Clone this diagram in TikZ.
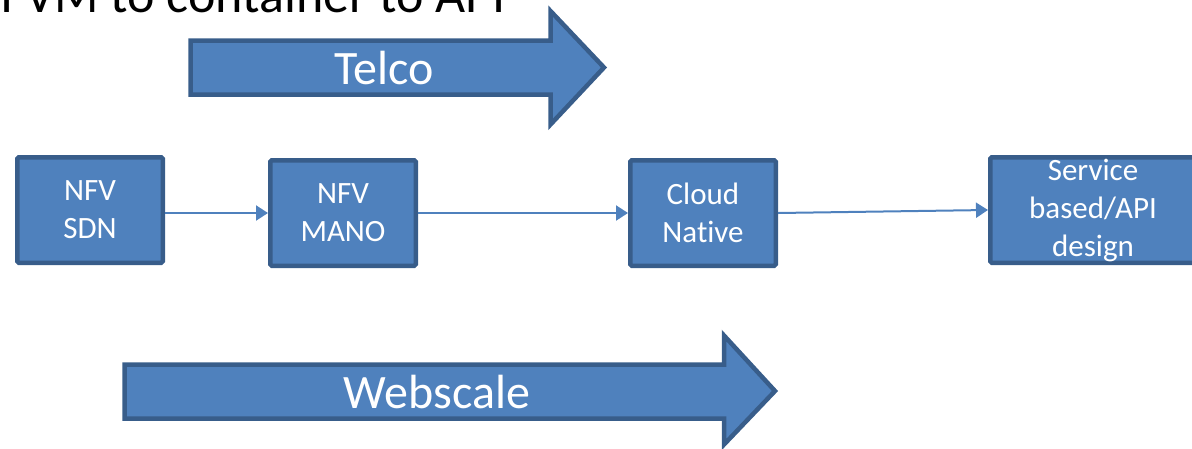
\documentclass[tikz,border=0pt]{standalone}
\usepackage{fontspec}
\setmainfont{Carlito}[Ligatures=NoCommon]
\usetikzlibrary{arrows.meta}
\definecolor{fillblue}{HTML}{4F81BD}
\definecolor{edgeblue}{HTML}{385D8A}
\tikzset{
  box/.style={draw=edgeblue, fill=fillblue, line width=4.5pt, rounded corners=1.5pt,
    text=white, align=center, font=\fontsize{31}{38}\selectfont, inner sep=0pt},
  bigarrow/.style={draw=edgeblue, fill=fillblue, line width=4.5pt, line join=miter},
  arrowlabel/.style={text=white, font=\fontsize{48}{58}\selectfont, inner sep=0pt},
  link/.style={draw=fillblue, line width=2pt, -{Triangle[length=12pt,width=15pt]}},
}
\begin{document}
\begin{tikzpicture}[x=1pt,y=-1pt]
\useasboundingbox (0,0) rectangle (1192,448);
\clip (0,0) rectangle (1192,448);
% clipped title
\node[anchor=base west, inner sep=0pt, font=\fontsize{52}{62}\selectfont] (title) at (0,12) {I VM to container to API};
% Telco block arrow
\draw[bigarrow] (190.5,40.5) -- (550.5,40.5) -- (550.5,11) -- (604,67.5) -- (550.5,124.5) -- (550.5,94.5) -- (190.5,94.5) -- cycle;
\node[arrowlabel] (telco) at (384,68) {Telco};
% Webscale block arrow
\draw[bigarrow] (124.5,364.5) -- (724,364.5) -- (724,335.5) -- (775,391) -- (724,444.5) -- (724,418.5) -- (124.5,418.5) -- cycle;
\node[arrowlabel] (webscale) at (437,392) {Webscale};
% boxes
\node[box, minimum width=145.5pt, minimum height=105.5pt] (sdn) at (90,210) {NFV\\SDN};
\node[box, minimum width=145.5pt, minimum height=105.5pt] (mano) at (343,213) {NFV\\MANO};
\node[box, minimum width=145.5pt, minimum height=105.5pt] (cloud) at (703,213) {Cloud\\Native};
\node[box, minimum width=205.5pt, minimum height=105.5pt] (service) at (1093,210) {Service\\based/API\\design};
% connectors
\draw[link] (sdn.east |- mano.west) -- (mano.west);
\draw[link] (mano.east) -- (cloud.west);
\draw[link] (cloud.east) -- (service.west);
\end{tikzpicture}
\end{document}
